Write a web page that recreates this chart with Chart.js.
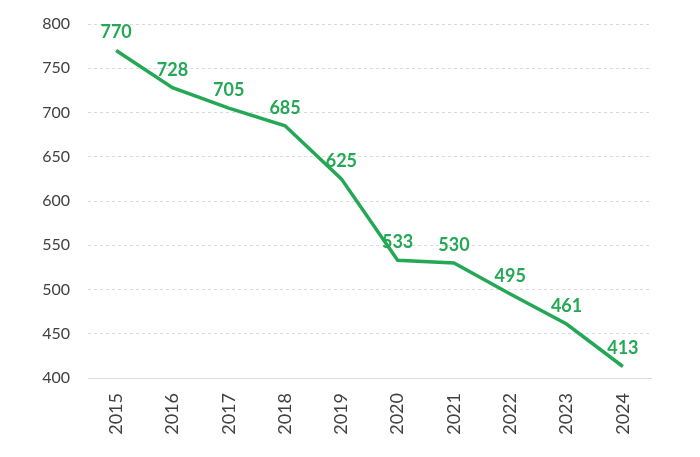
<!DOCTYPE html>
<html><head><meta charset="utf-8">
<script src="https://cdn.jsdelivr.net/npm/chart.js@4"></script>
<style>html,body{margin:0;padding:0;background:#fff}#wrap{width:700px;height:457px}</style>
</head><body><div id="wrap"><canvas id="c"></canvas></div>
<script>
const years = ['2015','2016','2017','2018','2019','2020','2021','2022','2023','2024'];
const values = [770, 728, 705, 685, 625, 533, 530, 495, 461, 413];
const yTicks = [400, 450, 500, 550, 600, 650, 700, 750, 800];
const green = '#24a855';
const labelPlugin = {
  id: 'vals',
  afterDatasetsDraw(chart) {
    const ctx = chart.ctx;
    const meta = chart.getDatasetMeta(0);
    ctx.save();
    ctx.fillStyle = green;
    ctx.font = 'bold 18px Lato';
    ctx.textAlign = 'center';
    ctx.textBaseline = 'middle';
    meta.data.forEach((p, i) => {
      ctx.fillText(String(values[i]), p.x, p.y - 18);
    });
    ctx.restore();
  }
};
new Chart(document.getElementById('c'), {
  type: 'line',
  data: { labels: years, datasets: [{ data: values, borderColor: green, borderWidth: 3.5, pointRadius: 0, tension: 0, fill: false }] },
  options: {
    responsive: true, maintainAspectRatio: false, animation: false,
    layout: { padding: { top: 24, right: 49, left: 0, bottom: 0 } },
    plugins: { legend: { display: false }, tooltip: { enabled: false } },
    scales: {
      x: {
        offset: true,
        grid: { display: false },
        border: { display: true, color: '#d9d9d9', width: 1 },
        ticks: { color: '#404040', font: { family: 'Lato', size: 18 }, maxRotation: 90, minRotation: 90, padding: 7 },
        afterFit(s) { s.height = 79; s.paddingLeft = 0; s.paddingRight = 0; }
      },
      y: {
        min: 400, max: 800,
        afterBuildTicks(s) { s.ticks = yTicks.map(v => ({ value: v })); },
        grid: { color: '#d9d9d9', lineWidth: 1, drawTicks: false },
        border: { display: false, dash: [3, 3] },
        ticks: { color: '#404040', font: { family: 'Lato', size: 16 }, padding: 18 },
        afterFit(s) { s.width = 88; s.paddingTop = 0; s.paddingBottom = 0; }
      }
    }
  },
  plugins: [labelPlugin]
});
</script></body></html>
